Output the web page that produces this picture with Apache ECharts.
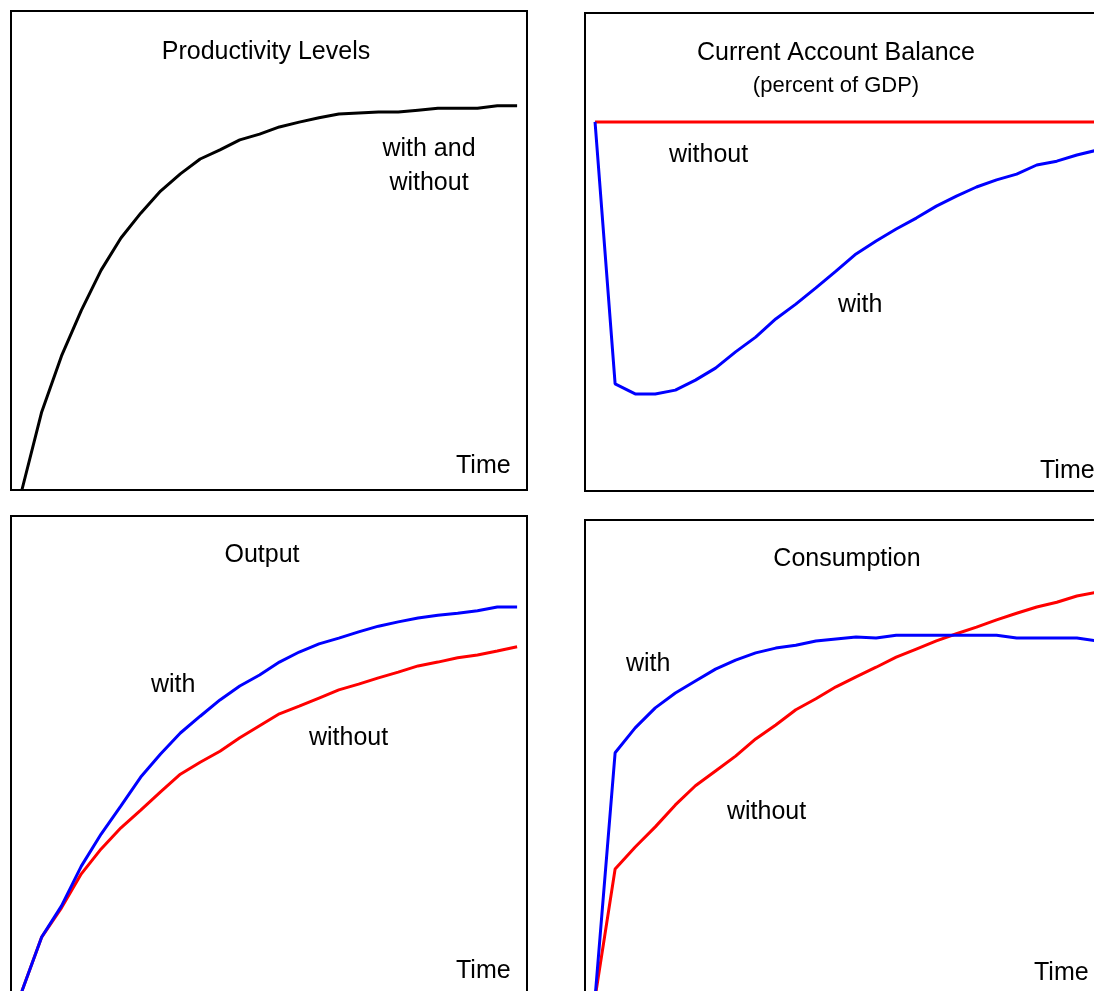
<!DOCTYPE html>
<html>
<head>
<meta charset="utf-8">
<title>Productivity shock</title>
<script src="https://cdn.jsdelivr.net/npm/echarts@6/dist/echarts.min.js"></script>
<style>
html, body { margin: 0; padding: 0; background: #fff; }
#main { width: 1094px; height: 991px; }
</style>
</head>
<body>
<div id="main"></div>
<script>
// periods after the shock
var steps = [0, 1, 2, 3, 4, 5, 6, 7, 8, 9, 10, 11, 12, 13, 14, 15, 16, 17, 18, 19, 20, 21, 22, 23, 24, 25];

// productivity level (same with and without)
var productivity = [0, 16.3, 28.0, 37.5, 45.9, 52.6, 57.8, 62.4, 66.0, 69.1, 71.0, 73.1, 74.3, 75.8, 76.8, 77.7, 78.5, 78.7, 78.9, 78.9, 79.3, 79.7, 79.7, 79.7, 80.2, 80.2];

// current account, deviation from zero
var caWith = [0, -54.8, -56.9, -56.9, -56.1, -54.0, -51.5, -48.1, -45.0, -41.2, -38.1, -34.7, -31.2, -27.6, -24.9, -22.4, -20.1, -17.6, -15.5, -13.6, -12.1, -10.9, -9.0, -8.2, -6.9, -5.9];
var caWithout = [0, 0, 0, 0, 0, 0, 0, 0, 0, 0, 0, 0, 0, 0, 0, 0, 0, 0, 0, 0, 0, 0, 0, 0, 0, 0];

// output
var outputWith = [0.8, 12.1, 18.6, 26.9, 33.6, 39.5, 45.5, 50.3, 54.7, 58.2, 61.6, 64.5, 66.8, 69.5, 71.6, 73.3, 74.5, 75.8, 77.0, 77.9, 78.7, 79.3, 79.7, 80.2, 81.0, 81.0];
var outputWithout = [0.8, 12.1, 18.2, 25.3, 30.5, 34.9, 38.6, 42.4, 46.1, 48.6, 50.9, 53.7, 56.2, 58.7, 60.3, 62.0, 63.7, 64.9, 66.2, 67.4, 68.7, 69.5, 70.4, 71.0, 71.8, 72.7];

// consumption
var consWith = [0, 51.3, 56.5, 60.7, 63.8, 66.3, 68.8, 70.7, 72.2, 73.2, 73.8, 74.7, 75.1, 75.5, 75.3, 75.9, 75.9, 75.9, 75.9, 75.9, 75.9, 75.3, 75.3, 75.3, 75.3, 74.7];
var consWithout = [0, 27.0, 31.6, 35.8, 40.4, 44.4, 47.5, 50.6, 54.2, 57.1, 60.3, 62.6, 65.1, 67.2, 69.2, 71.3, 73.0, 74.7, 76.2, 77.6, 79.1, 80.5, 81.8, 82.8, 84.1, 84.9];

var FONT = '"Liberation Sans", Arial, sans-serif';
var BLUE = '#0000ff', RED = '#ff0000', BLACK = '#000000';

function pairs(vals) {
    return steps.map(function (t, i) { return [t, vals[i]]; });
}

function line(idx, vals, color) {
    return {
        type: 'line',
        xAxisIndex: idx,
        yAxisIndex: idx,
        data: pairs(vals),
        showSymbol: false,
        silent: true,
        lineStyle: { color: color, width: 3 },
        itemStyle: { color: color }
    };
}

function label(text, x, y, size, align) {
    return {
        type: 'text',
        x: x,
        y: y + 2,
        silent: true,
        style: {
            text: text,
            fill: BLACK,
            font: size + 'px ' + FONT,
            textAlign: align || 'left',
            verticalAlign: 'middle',
            textVerticalAlign: 'middle',
            lineHeight: 34
        }
    };
}

// panel frame; the right-hand panels run past the page edge
function panel(left, top, width, height) {
    return {
        left: left, top: top, width: width, height: height,
        outerBoundsMode: 'none',
        containLabel: false,
        show: true,
        borderColor: BLACK,
        borderWidth: 2,
        backgroundColor: 'transparent'
    };
}

var chart = echarts.init(document.getElementById('main'));
chart.setOption({
    animation: false,
    backgroundColor: '#fff',
    grid: [
        panel(11, 11, 516, 479),
        panel(585, 13, 522, 478),
        panel(11, 516, 516, 479),
        panel(585, 520, 522, 478)
    ],
    xAxis: [
        { type: 'value', gridIndex: 0, min: -0.55, max: 25.5, show: false },
        { type: 'value', gridIndex: 1, min: -0.5, max: 25.5, show: false },
        { type: 'value', gridIndex: 2, min: -0.55, max: 25.5, show: false },
        { type: 'value', gridIndex: 3, min: -0.5, max: 25.5, show: false }
    ],
    yAxis: [
        { type: 'value', gridIndex: 0, min: 0, max: 100, show: false },
        { type: 'value', gridIndex: 1, min: -77.2, max: 22.8, show: false },
        { type: 'value', gridIndex: 2, min: 0, max: 100, show: false },
        { type: 'value', gridIndex: 3, min: 0, max: 100, show: false }
    ],
    series: [
        line(0, productivity, BLACK),
        line(1, caWithout, RED),
        line(1, caWith, BLUE),
        line(2, outputWithout, RED),
        line(2, outputWith, BLUE),
        line(3, consWithout, RED),
        line(3, consWith, BLUE)
    ],
    graphic: [
        label('Productivity Levels', 266, 50, 25, 'center'),
        label('with and\nwithout', 429, 164, 25, 'center'),
        label('Time', 456, 464, 25),

        label('Current Account Balance', 836, 51, 25, 'center'),
        label('(percent of GDP)', 836, 84, 22, 'center'),
        label('without', 669, 153, 25),
        label('with', 838, 303, 25),
        label('Time', 1040, 469, 25),

        label('Output', 262, 553, 25, 'center'),
        label('with', 151, 683, 25),
        label('without', 309, 736, 25),
        label('Time', 456, 969, 25),

        label('Consumption', 847, 557, 25, 'center'),
        label('with', 626, 662, 25),
        label('without', 727, 810, 25),
        label('Time', 1034, 971, 25)
    ]
});
</script>
</body>
</html>
